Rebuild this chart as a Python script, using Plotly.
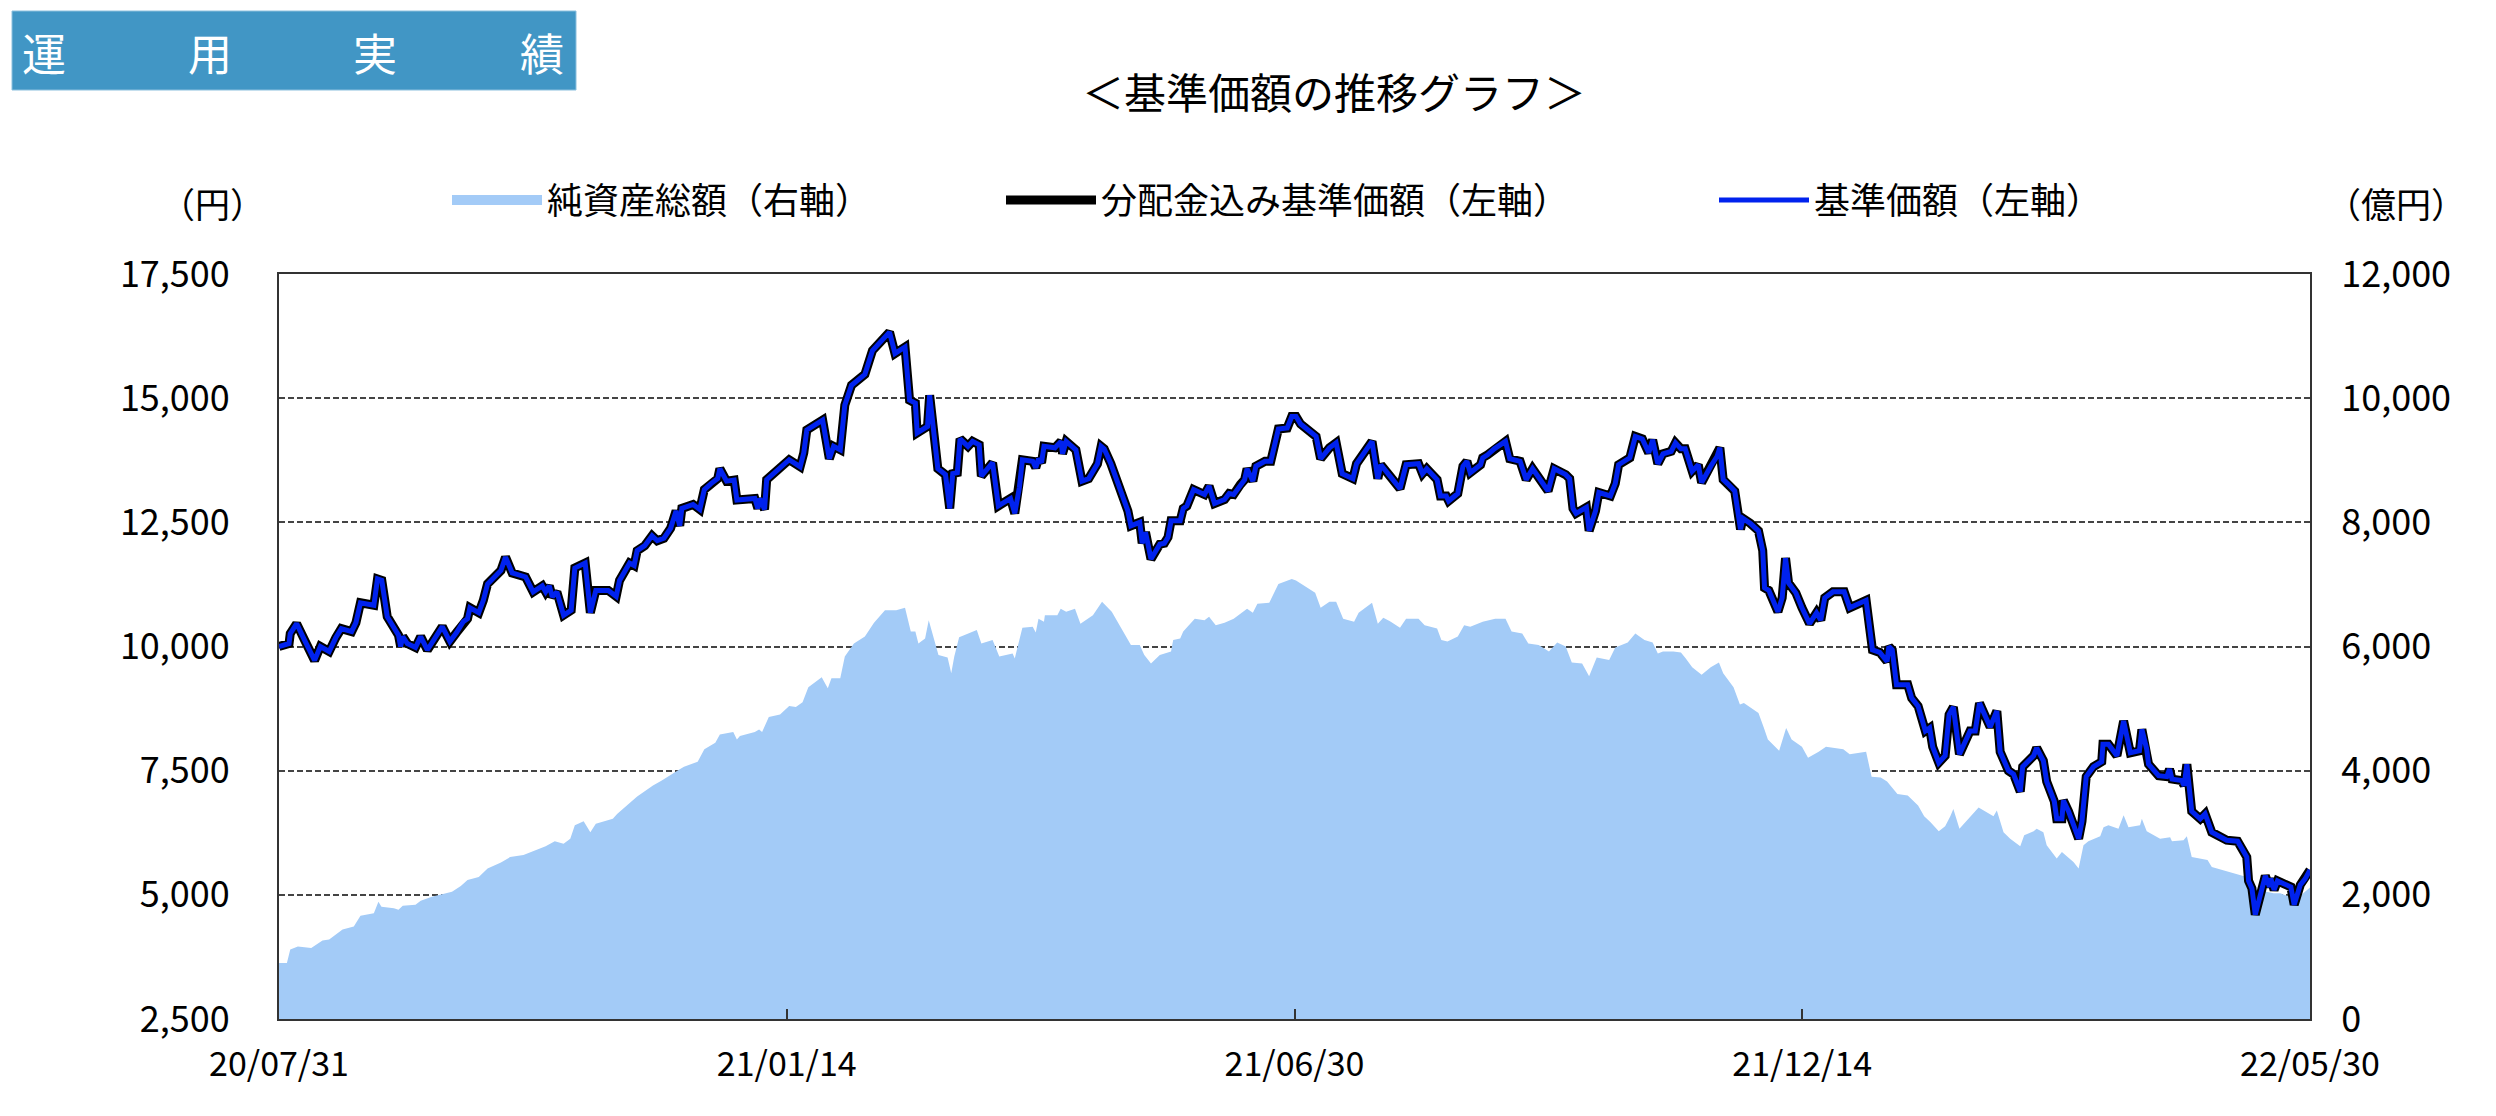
import numpy as np
import pandas as pd
import plotly.graph_objects as go

# ---------------- data ----------------
start_date = "2020-07-31"

# 基準価額 : day offsets from start_date and values (円)
price_days = [0, 3.3, 3.7, 5.8, 8.4, 11.7, 13.6, 16.5, 18.7, 20.5, 23.9, 25.3, 26.8, 31.2, 32.4, 33.8, 35.6, 37.8,
              39.3, 40.0, 40.7, 42.2, 44.9, 46.6, 48.8, 53.7, 56.2, 58.4, 60.6, 62.0, 62.8, 65.7, 67.2, 68.6, 73.0,
              74.5, 76.7, 81.1, 83.6, 86.6, 87.7, 88.9, 89.9, 91.4, 93.6, 96.1, 97.3, 100.7, 102.4, 104.2, 108.3,
              110.9, 112.0, 115.3, 116.8, 117.8, 120.3, 122.7, 124.4, 126.6, 128.8, 130.6, 131.8, 132.5, 136.2,
              138.4, 139.9, 142.1, 144.3, 145.0, 147.2, 149.7, 150.6, 156.5, 157.5, 158.2, 159.7, 160.4, 164.8,
              167.8, 171.4, 172.6, 173.6, 178.8, 181.0, 182.4, 184.6, 186.1, 188.3, 192.7, 195.2, 200.8, 202.6,
              205.9, 207.4, 209.3, 209.9, 213.3, 214.0, 216.7, 219.2, 220.6, 221.6, 223.1, 224.0, 226.6, 228.1,
              230.3, 231.0, 234.7, 236.6, 240.6, 242.0, 243.5, 244.5, 247.9, 248.9, 249.8, 250.8, 251.6, 255.2,
              257.2, 257.7, 258.9, 262.1, 264.1, 266.3, 269.2, 270.4, 271.4, 273.6, 279.2, 280.2, 283.1, 283.9,
              285.0, 286.8, 289.7, 291.2, 292.4, 293.4, 296.4, 297.4, 298.6, 300.8, 304.4, 305.9, 307.7, 311.0,
              312.5, 314.0, 316.2, 317.6, 318.4, 320.3, 321.3, 324.3, 326.2, 328.7, 331.6, 333.1, 334.5, 336.0,
              341.1, 342.6, 345.5, 347.7, 349.7, 353.2, 354.4, 359.5, 361.4, 362.4, 365.4, 368.7, 370.7, 374.8,
              376.1, 377.5, 380.9, 382.0, 383.9, 384.7, 387.7, 389.4, 390.7, 391.8, 395.2, 395.9, 397.5, 399.7,
              403.4, 404.8, 408.2, 410.2, 412.3, 417.4, 419.4, 423.2, 424.5, 425.6, 426.6, 430.0, 430.9, 433.0,
              434.1, 437.9, 439.5, 440.6, 444.3, 446.1, 448.4, 450.5, 451.8, 453.5, 455.2, 457.9, 459.3, 461.1,
              462.5, 464.8, 466.8, 467.9, 470.9, 473.0, 473.9, 475.0, 476.4, 478.8, 480.7, 481.5, 483.9, 486.6,
              488.0, 488.6, 490.0, 493.0, 494.4, 495.5, 496.5, 498.9, 500.9, 502.0, 503.4, 505.7, 507.1, 508.4,
              511.1, 514.8, 516.6, 522.0, 524.1, 526.5, 528.9, 529.5, 530.6, 532.0, 535.7, 537.0, 539.1, 541.5,
              542.9, 543.9, 545.9, 548.0, 549.3, 550.7, 552.7, 556.2, 557.9, 559.3, 562.8, 565.0, 566.1, 568.8,
              570.5, 572.7, 573.5, 577.1, 578.1, 580.3, 581.4, 583.9, 584.7, 586.4, 586.9, 588.6, 591.9, 593.0,
              594.4, 596.8, 599.5, 599.9, 601.7, 604.5, 606.7, 608.9, 611.9, 612.7, 614.3, 614.9, 618.2, 620.9,
              621.8, 622.6, 625.8, 626.6, 627.5, 629.1, 631.9, 633.5, 635.7, 640.6, 644.2, 647.2, 647.8, 648.9,
              650.0, 653.3, 654.7, 655.1, 656.2, 657.3, 661.7, 662.8, 664.8, 666.4, 668.0]
price_values = [10000, 10060, 10260, 10460, 10130, 9720, 10000, 9900, 10180, 10360, 10300, 10480, 10880, 10830, 11360,
                11330, 10600, 10380, 10230, 10000, 10200, 10060, 9980, 10200, 9930, 10400, 10100, 10280, 10500,
                10560, 10780, 10680, 10930, 11260, 11530, 11800, 11480, 11400, 11100, 11220, 11100, 11220, 11000,
                11100, 10630, 10730, 11580, 11680, 10680, 11130, 11130, 11010, 11330, 11680, 11630, 11930, 12030,
                12230, 12130, 12180, 12380, 12730, 12430, 12780, 12860, 12760, 13160, 13280, 13380, 13580, 13330,
                13350, 12950, 12980, 12780, 12980, 12760, 13360, 13580, 13760, 13620, 13900, 14360, 14560, 13780,
                14030, 13960, 14860, 15260, 15480, 15960, 16330, 15900, 16030, 14960, 14900, 14300, 14430, 15060,
                13580, 13460, 12780, 13480, 13500, 14180, 14030, 14130, 14060, 13430, 13700, 12830, 12980, 12680,
                13200, 13760, 13730, 13600, 13780, 13700, 14030, 14000, 14130, 13880, 14130, 13960, 13330, 13380,
                13680, 14030, 13980, 13680, 12730, 12430, 12500, 12080, 12300, 11760, 12060, 12080, 12200, 12530,
                12530, 12780, 12830, 13160, 13060, 13230, 12880, 12960, 13080, 13060, 13260, 13360, 13580, 13330,
                13630, 13730, 13730, 14380, 14400, 14630, 14630, 14480, 14230, 13780, 14000, 14100, 13480, 13380,
                13680, 14130, 13380, 13660, 13430, 13180, 13660, 13680, 13480, 13580, 13360, 13030, 13030, 12930,
                13080, 13630, 13730, 13500, 13660, 13800, 13860, 13980, 14130, 13780, 13730, 13360, 13580, 13130,
                13580, 13460, 13380, 12780, 12680, 12800, 12330, 12730, 13100, 13030, 13280, 13660, 13800, 14230,
                14180, 13900, 14160, 13680, 13880, 13930, 14100, 13980, 13980, 13530, 13660, 13300, 13630, 13830,
                14000, 13360, 13280, 13130, 12360, 12580, 12480, 12330, 11930, 11180, 11130, 10700, 10980, 11780,
                11280, 11080, 10780, 10660, 10460, 10680, 10530, 10980, 11100, 11100, 10780, 10930, 9930, 9880,
                9700, 10000, 9930, 9230, 9230, 8960, 8800, 8300, 8360, 7980, 7660, 7800, 8630, 8780, 7830, 8300,
                8300, 8860, 8380, 8700, 7880, 7500, 7430, 7080, 7580, 7800, 7960, 7700, 7280, 6880, 6530, 6530,
                6900, 6680, 6130, 6480, 7380, 7580, 7680, 8030, 8030, 7800, 8500, 7860, 7900, 8330, 7930, 7630,
                7400, 7380, 7530, 7330, 7300, 7200, 7630, 6680, 6530, 6630, 6260, 6100, 6080, 5760, 5280, 5130,
                4600, 5380, 5160, 5330, 5100, 5280, 5160, 4800, 5200, 5320, 5500]
# 分配金込み基準価額 : identical to 基準価額 over the period (no distributions)
price_with_dist_values = list(price_values)

# 純資産総額 (億円) : day offsets from start_date and values
nav_days = [0, 2.6, 3.7, 6.2, 10.6, 12.8, 14.3, 16.5, 18.7, 20.9, 24.6, 26.8, 31.2, 32.7, 33.7, 37.8, 39.3, 40.7,
            44.9, 46.6, 50.3, 56.9, 59.8, 62.0, 65.7, 68.6, 73.0, 76.0, 80.4, 87.7, 90.7, 93.6, 95.8, 97.3, 100.2,
            102.4, 104.2, 109.8, 111.2, 115.6, 117.8, 123.0, 125.9, 131.8, 133.2, 137.7, 139.9, 143.5, 145.0,
            149.4, 150.6, 151.6, 156.5, 157.9, 158.9, 161.1, 164.8, 167.8, 170.0, 172.2, 174.1, 178.5, 180.5,
            181.7, 184.6, 186.1, 189.1, 192.7, 195.7, 199.3, 203.0, 205.9, 207.8, 209.3, 210.3, 212.5, 213.7,
            216.9, 219.9, 221.1, 222.1, 223.7, 228.4, 229.5, 231.0, 234.7, 236.9, 241.3, 242.0, 244.5, 247.9,
            248.9, 249.8, 251.6, 251.9, 256.0, 257.1, 258.9, 261.8, 263.6, 267.7, 270.7, 273.9, 279.2, 280.2,
            283.1, 284.6, 286.8, 289.7, 293.4, 294.1, 296.4, 297.4, 301.2, 304.4, 305.9, 308.1, 311.0, 314.0,
            318.4, 320.3, 321.8, 325.7, 328.7, 333.1, 334.5, 338.2, 340.8, 342.6, 345.5, 347.7, 350.0, 353.6,
            355.1, 359.5, 361.4, 363.2, 365.4, 368.7, 370.7, 374.8, 376.8, 380.9, 382.3, 384.3, 387.7, 389.8,
            391.8, 395.9, 400.0, 403.4, 405.4, 408.9, 410.9, 414.3, 417.7, 420.4, 423.2, 425.2, 428.6, 430.9,
            433.4, 437.5, 439.5, 443.6, 446.1, 449.1, 451.8, 453.5, 455.2, 458.6, 461.1, 462.7, 464.8, 467.9,
            470.9, 473.6, 475.0, 478.4, 480.5, 481.8, 486.6, 488.4, 489.7, 493.4, 495.7, 497.5, 500.9, 502.9,
            506.4, 508.8, 511.1, 514.5, 516.6, 522.0, 523.8, 526.8, 528.9, 531.2, 532.3, 535.7, 539.1, 541.1,
            543.2, 545.9, 548.0, 549.7, 550.7, 552.7, 556.8, 559.0, 563.9, 565.0, 567.2, 569.4, 572.7, 574.0,
            577.1, 578.1, 580.3, 581.4, 584.7, 586.4, 590.2, 591.9, 593.5, 595.1, 599.0, 600.1, 601.7, 605.0,
            606.7, 608.3, 612.1, 612.7, 614.3, 618.7, 622.0, 622.6, 626.4, 627.5, 629.1, 631.9, 634.3, 635.7,
            642.8, 647.2, 649.4, 652.2, 656.0, 658.2, 660.4, 664.8, 668.0]
nav_values = [904, 904, 1120, 1168, 1144, 1224, 1264, 1280, 1360, 1440, 1488, 1664, 1704, 1888, 1808, 1784, 1760,
              1824, 1840, 1904, 1968, 2048, 2144, 2240, 2288, 2424, 2520, 2608, 2640, 2784, 2864, 2824, 2904, 3120,
              3184, 3008, 3144, 3224, 3304, 3488, 3584, 3760, 3840, 4024, 4064, 4144, 4344, 4448, 4584, 4624, 4504,
              4560, 4624, 4664, 4624, 4864, 4904, 5040, 5024, 5104, 5344, 5504, 5328, 5488, 5488, 5840, 6048, 6160,
              6384, 6584, 6584, 6624, 6240, 6240, 6048, 6128, 6424, 5864, 5824, 5568, 5840, 6150, 6240, 6264, 6048,
              6104, 5840, 5888, 5808, 6304, 6320, 6224, 6448, 6400, 6504, 6504, 6608, 6560, 6608, 6368, 6504, 6720,
              6560, 6104, 6024, 6024, 5864, 5728, 5864, 5920, 6104, 6128, 6240, 6448, 6424, 6480, 6344, 6384, 6448,
              6608, 6544, 6688, 6704, 7008, 7088, 7064, 6944, 6864, 6624, 6720, 6720, 6448, 6400, 6544, 6704, 6368,
              6464, 6408, 6304, 6448, 6448, 6344, 6288, 6104, 6080, 6160, 6344, 6320, 6400, 6448, 6448, 6240, 6208,
              6048, 6024, 5920, 6064, 6000, 5744, 5728, 5520, 5824, 5784, 5984, 6064, 6208, 6104, 6064, 5888, 5920,
              5920, 5904, 5808, 5664, 5544, 5664, 5744, 5568, 5344, 5064, 5088, 4928, 4688, 4504, 4320, 4688, 4504,
              4384, 4208, 4304, 4384, 4368, 4344, 4264, 4304, 3904, 3888, 3824, 3680, 3624, 3600, 3440, 3264, 3168,
              3024, 3104, 3264, 3384, 3064, 3280, 3408, 3264, 3360, 3008, 2904, 2784, 2960, 3024, 3064, 3008, 2800,
              2584, 2688, 2528, 2424, 2800, 2864, 2944, 3088, 3120, 3064, 3280, 3088, 3120, 3224, 3024, 2904, 2928,
              2864, 2880, 2944, 2608, 2584, 2560, 2448, 2344, 2288, 2080, 2064, 2024, 2024, 1984, 1984, 2117]

# axis ticks
x_tick_dates = ["2020-07-31", "2021-01-14", "2021-06-30", "2021-12-14", "2022-05-30"]
x_tick_labels = ["20/07/31", "21/01/14", "21/06/30", "21/12/14", "22/05/30"]
left_tick_vals = [2500, 5000, 7500, 10000, 12500, 15000, 17500]
left_tick_labels = ["2,500", "5,000", "7,500", "10,000", "12,500", "15,000", "17,500"]
right_tick_vals = [0, 2000, 4000, 6000, 8000, 10000, 12000]
right_tick_labels = ["0", "2,000", "4,000", "6,000", "8,000", "10,000", "12,000"]

# ---------------- figure ----------------
base = pd.Timestamp(start_date)
price_dates = base + pd.to_timedelta(np.array(price_days), unit="D")
nav_dates = base + pd.to_timedelta(np.array(nav_days), unit="D")

FONT = "Noto Sans CJK JP"
AREA = "#A3CBF7"
BLUE = "#0022EE"
AX = "#333333"

fig = go.Figure()
fig.add_trace(go.Scatter(
    x=nav_dates, y=nav_values, name="純資産総額（右軸）", mode="lines",
    line=dict(width=0, color=AREA), fill="tozeroy", fillcolor=AREA,
    yaxis="y", showlegend=False, legendgroup="nav"))
# legend entry for the area (thick swatch like the reference)
fig.add_trace(go.Scatter(
    x=[None], y=[None], name="純資産総額（右軸）", mode="lines",
    line=dict(width=22, color=AREA), yaxis="y", legend="legend", legendgroup="nav"))
fig.add_trace(go.Scatter(
    x=price_dates, y=price_with_dist_values, name="分配金込み基準価額（左軸）", mode="lines",
    line=dict(width=9, color="black"), yaxis="y2", legend="legend2"))
fig.add_trace(go.Scatter(
    x=price_dates, y=price_values, name="基準価額（左軸）", mode="lines",
    line=dict(width=5, color=BLUE), yaxis="y2", legend="legend3"))

W, H = 2496, 1116
L, R, T, B = 279, 186, 274, 97
pw, ph = W - L - R, H - T - B


def px(xp):
    return (xp - L) / pw


def py(yp):
    return 1 + (T - yp) / ph


legend_common = dict(orientation="h", yanchor="middle", xanchor="left", itemwidth=90,
                     font=dict(family=FONT, size=36, color="black"),
                     bgcolor="rgba(0,0,0,0)", borderwidth=0)

TICKFONT = dict(family=FONT, size=36, color="black")

fig.update_layout(
    width=W, height=H,
    margin=dict(l=L, r=R, t=T, b=B, pad=0),
    paper_bgcolor="white", plot_bgcolor="white",
    font=dict(family=FONT, color="black"),
    showlegend=True,
    legend=dict(x=px(447), y=py(200), **legend_common),
    legend2=dict(x=px(1001), y=py(200), **legend_common),
    legend3=dict(x=px(1714), y=py(200), **legend_common),
    xaxis=dict(type="date", range=[x_tick_dates[0], x_tick_dates[-1]],
               tickvals=x_tick_dates, ticktext=x_tick_labels,
               ticks="inside", ticklen=10, tickwidth=1.5, tickcolor=AX,
               showline=True, linecolor=AX, linewidth=2, mirror=True,
               showgrid=False, zeroline=False, ticklabelstandoff=14,
               tickfont=dict(family=FONT, size=34, color="black")),
    yaxis=dict(side="right", range=[0, 12000], tickvals=right_tick_vals, ticktext=right_tick_labels,
               showgrid=True, gridcolor="#444444", gridwidth=1.5, griddash="6px,3px",
               showline=True, linecolor=AX, linewidth=2, zeroline=False, ticks="",
               ticklabelstandoff=22, tickfont=TICKFONT),
    yaxis2=dict(side="left", overlaying="y", range=[2500, 17500],
                tickvals=left_tick_vals, ticktext=left_tick_labels,
                showgrid=False, zeroline=False, showline=True, linecolor=AX, linewidth=2,
                ticks="", ticklabelstandoff=40, tickfont=TICKFONT),
)

# header box and texts
fig.add_shape(type="rect", xref="paper", yref="paper",
              x0=px(12), x1=px(576), y0=py(90), y1=py(11),
              fillcolor="#4196C5", line=dict(width=1, color="#8CC0DE"), layer="above")
for ch, cx in zip(["運", "用", "実", "績"], [44, 210, 375, 542]):
    fig.add_annotation(text=ch, xref="paper", yref="paper", x=px(cx), y=py(52),
                       xanchor="center", yanchor="middle", showarrow=False,
                       font=dict(family=FONT, size=44, color="white"))

fig.add_annotation(text="＜基準価額の推移グラフ＞", xref="paper", yref="paper", x=px(1334), y=py(91),
                   xanchor="center", yanchor="middle", showarrow=False,
                   font=dict(family=FONT, size=42, color="black"))
fig.add_annotation(text="（円）", xref="paper", yref="paper", x=px(212), y=py(203),
                   xanchor="center", yanchor="middle", showarrow=False,
                   font=dict(family=FONT, size=35, color="black"))
fig.add_annotation(text="（億円）", xref="paper", yref="paper", x=px(2396), y=py(203),
                   xanchor="center", yanchor="middle", showarrow=False,
                   font=dict(family=FONT, size=35, color="black"))

fig.write_html("out.html")
